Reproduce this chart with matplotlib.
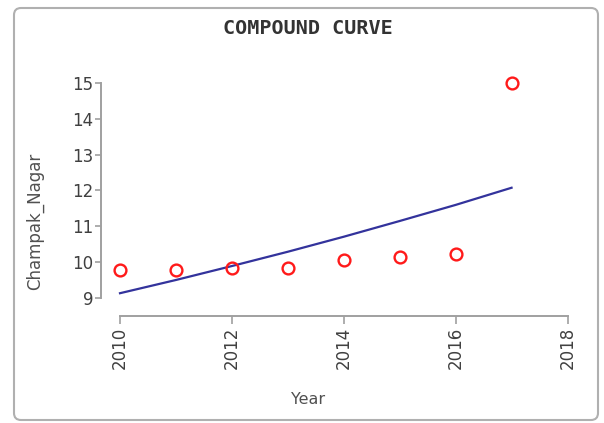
import matplotlib
matplotlib.use("Agg")
import matplotlib.pyplot as plt
from matplotlib.patches import FancyBboxPatch

years = [2010, 2011, 2012, 2013, 2014, 2015, 2016, 2017]
observed = [9.77, 9.77, 9.82, 9.82, 10.05, 10.13, 10.23, 15.0]
# compound curve fit, read at each year
curve = [9.12, 9.49, 9.88, 10.28, 10.70, 11.14, 11.59, 12.07]

x_ticks = [2010, 2012, 2014, 2016, 2018]
y_ticks = [9, 10, 11, 12, 13, 14, 15]

fig = plt.figure(figsize=(6.04, 4.23), dpi=100)
W, H = 604, 423

# rounded frame around the whole chart
frame = FancyBboxPatch((0.14, 0.03), 5.84, 4.12,
                       boxstyle="round,pad=0,rounding_size=0.07",
                       transform=fig.dpi_scale_trans, fill=False,
                       edgecolor="#b0b0b0", linewidth=1.5)
fig.patches.append(frame)

ax = fig.add_axes([120 / W, (H - 297.5) / H, 447.5 / W, 214.5 / H])
ax.set_xlim(2010, 2018)
ax.set_ylim(9, 15)

ax.plot(years, curve, color="#33339c", linewidth=1.6, clip_on=False)
ax.plot(years, observed, linestyle="none", marker="o", markersize=8.5,
        markerfacecolor="none", markeredgecolor="#ff1a1a",
        markeredgewidth=1.7, clip_on=False)

for s in ["top", "right"]:
    ax.spines[s].set_visible(False)
off = 19 / 1.389
ax.spines["left"].set_position(("outward", off))
ax.spines["bottom"].set_position(("outward", off))
for s in ["left", "bottom"]:
    ax.spines[s].set_color("#a0a0a0")
    ax.spines[s].set_linewidth(1.4)
ax.spines["left"].set_bounds(9, 15)
ax.spines["bottom"].set_bounds(2010, 2018)

ax.set_xticks(x_ticks)
ax.set_xticklabels([str(v) for v in x_ticks], rotation=90)
ax.set_yticks(y_ticks)
ax.tick_params(axis="y", length=4.5, width=1.2, color="#a0a0a0",
               labelsize=12, labelcolor="#404040", pad=1)
ax.tick_params(axis="x", length=5.5, width=1.2, color="#a0a0a0",
               labelsize=12, labelcolor="#404040", pad=2)

ax.set_xlabel("Year", fontsize=11.5, color="#505050")
ax.set_ylabel("Champak_Nagar", fontsize=12, color="#505050")
ax.xaxis.set_label_coords(308 / W, 1 - 399 / H, transform=fig.transFigure)
ax.xaxis.label.set_va("center")
ax.yaxis.set_label_coords(35 / W, 1 - 221 / H, transform=fig.transFigure)
ax.yaxis.label.set_va("center")

fig.text(308 / W, 1 - 28 / H, "COMPOUND CURVE", ha="center", va="center",
         fontsize=14.5, fontweight="bold", family="DejaVu Sans Mono",
         color="#333333")

fig.savefig("out.png", dpi=100)
